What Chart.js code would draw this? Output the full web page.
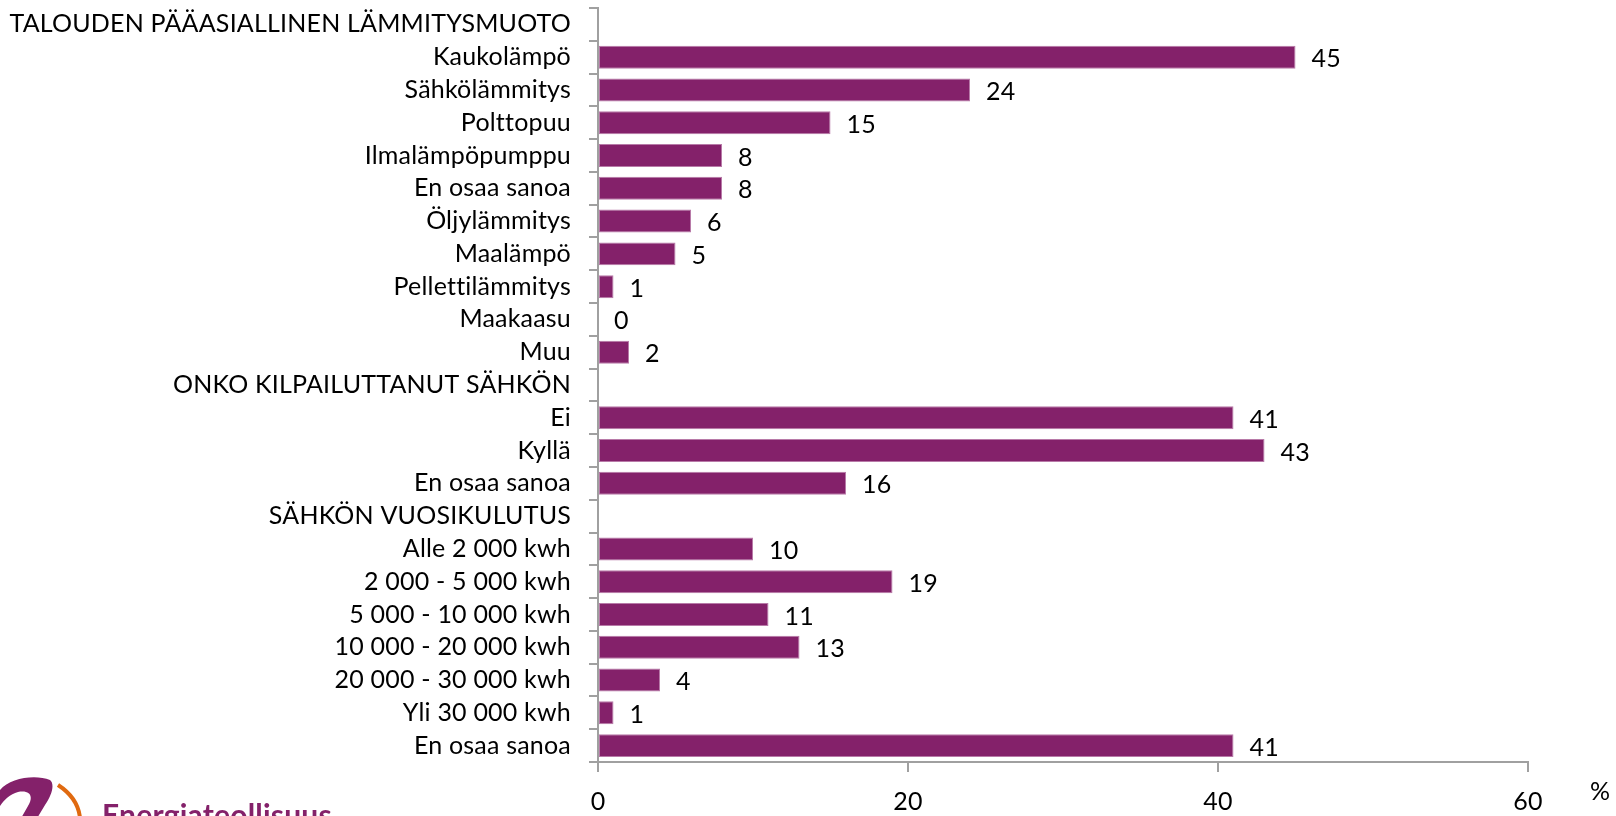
<!DOCTYPE html>
<html>
<head>
<meta charset="utf-8">
<script src="https://cdn.jsdelivr.net/npm/chart.js@4/dist/chart.umd.min.js"></script>
<style>
  html, body { margin: 0; padding: 0; background: #fff; }
  #wrap { width: 1616px; height: 816px; position: relative; }
</style>
</head>
<body>
<div id="wrap"><canvas id="c" width="1616" height="816"></canvas></div>
<script>
const categories = [
  "TALOUDEN PÄÄASIALLINEN LÄMMITYSMUOTO",
  "Kaukolämpö",
  "Sähkölämmitys",
  "Polttopuu",
  "Ilmalämpöpumppu",
  "En osaa sanoa",
  "Öljylämmitys",
  "Maalämpö",
  "Pellettilämmitys",
  "Maakaasu",
  "Muu",
  "ONKO KILPAILUTTANUT SÄHKÖN",
  "Ei",
  "Kyllä",
  "En osaa sanoa",
  "SÄHKÖN VUOSIKULUTUS",
  "Alle 2 000 kwh",
  "2 000 - 5 000 kwh",
  "5 000 - 10 000 kwh",
  "10 000 - 20 000 kwh",
  "20 000 - 30 000 kwh",
  "Yli 30 000 kwh",
  "En osaa sanoa"
];
const values = [
  null, 45, 24, 15, 8, 8, 6, 5, 1, 0, 2,
  null, 41, 43, 16,
  null, 10, 19, 11, 13, 4, 1, 41
];
const xTicks = [0, 20, 40, 60];
const unitLabel = "%";
const brandName = "Energiateollisuus";

const FONT = "Lato, 'Open Sans', sans-serif";
const BAR = "#84216A";

const noLigatures = {
  id: 'noLigatures',
  beforeDraw(chart) {
    try { chart.ctx.letterSpacing = "0.2px"; } catch (e) {}
  }
};

const valueLabels = {
  id: 'valueLabels',
  afterDatasetsDraw(chart) {
    const ctx = chart.ctx;
    const meta = chart.getDatasetMeta(0);
    ctx.save();
    ctx.font = "25px " + FONT;
    ctx.fillStyle = "#000";
    ctx.textAlign = "left";
    ctx.textBaseline = "middle";
    meta.data.forEach((el, i) => {
      const v = values[i];
      if (v === null || v === undefined) return;
      ctx.fillText(String(v), el.x + 16, el.y + 2);
    });
    ctx.restore();
  }
};

const extras = {
  id: 'extras',
  afterDraw(chart) {
    const ctx = chart.ctx;
    ctx.save();
    ctx.font = "25px " + FONT;
    ctx.fillStyle = "#000";
    ctx.textAlign = "center";
    ctx.textBaseline = "middle";
    ctx.fillText(unitLabel, 1600, 792);
    // logo (decorative)
    ctx.fillStyle = "#84216A";
    ctx.beginPath();
    ctx.moveTo(0, 790);
    ctx.bezierCurveTo(10, 778, 35, 774, 50, 780);
    ctx.bezierCurveTo(55, 784, 52, 795, 45, 805);
    ctx.lineTo(36, 820);
    ctx.lineTo(20, 820);
    ctx.lineTo(28, 806);
    ctx.bezierCurveTo(34, 796, 30, 790, 18, 792);
    ctx.bezierCurveTo(10, 794, 4, 800, 0, 806);
    ctx.closePath();
    ctx.fill();
    ctx.strokeStyle = "#E06A10";
    ctx.lineWidth = 4;
    ctx.beginPath();
    ctx.moveTo(58, 785);
    ctx.quadraticCurveTo(78, 798, 80, 818);
    ctx.stroke();
    ctx.font = "bold 30px " + FONT;
    ctx.fillStyle = "#84216A";
    ctx.textAlign = "left";
    ctx.textBaseline = "alphabetic";
    ctx.fillText(brandName, 102, 826);
    ctx.restore();
  }
};

new Chart(document.getElementById('c'), {
  type: 'bar',
  data: {
    labels: categories,
    datasets: [{
      data: values,
      backgroundColor: BAR,
      borderColor: "#B87AA8",
      borderWidth: 1,
      borderSkipped: false,
      categoryPercentage: 1,
      barPercentage: 0.7
    }]
  },
  options: {
    indexAxis: 'y',
    responsive: false,
    animation: false,
    devicePixelRatio: 1,
    layout: { padding: { top: 8, right: 88, left: 0, bottom: 0 } },
    plugins: { legend: { display: false }, tooltip: { enabled: false } },
    scales: {
      x: {
        min: 0, max: 60,
        afterBuildTicks(scale) { scale.ticks = xTicks.map(v => ({ value: v })); },
        afterFit(scale) { scale.height = 54; scale.paddingLeft = 0; scale.paddingRight = 0; },
        border: { display: true, color: "#A0A0A0", width: 2 },
        grid: { display: true, drawOnChartArea: false, drawTicks: true, tickLength: 10, color: "#A0A0A0", lineWidth: 2 },
        ticks: { color: "#000", font: { family: FONT, size: 25 }, padding: 15, maxRotation: 0 }
      },
      y: {
        afterFit(scale) { scale.width = 598; scale.paddingTop = 0; scale.paddingBottom = 0; },
        border: { display: true, color: "#A0A0A0", width: 2 },
        grid: { display: true, offset: true, drawOnChartArea: false, drawTicks: true, tickLength: 9, color: "#A0A0A0", lineWidth: 2 },
        ticks: { color: "#000", font: { family: FONT, size: 25 }, padding: 18, autoSkip: false }
      }
    }
  },
  plugins: [noLigatures, valueLabels, extras]
});
</script>
</body>
</html>
